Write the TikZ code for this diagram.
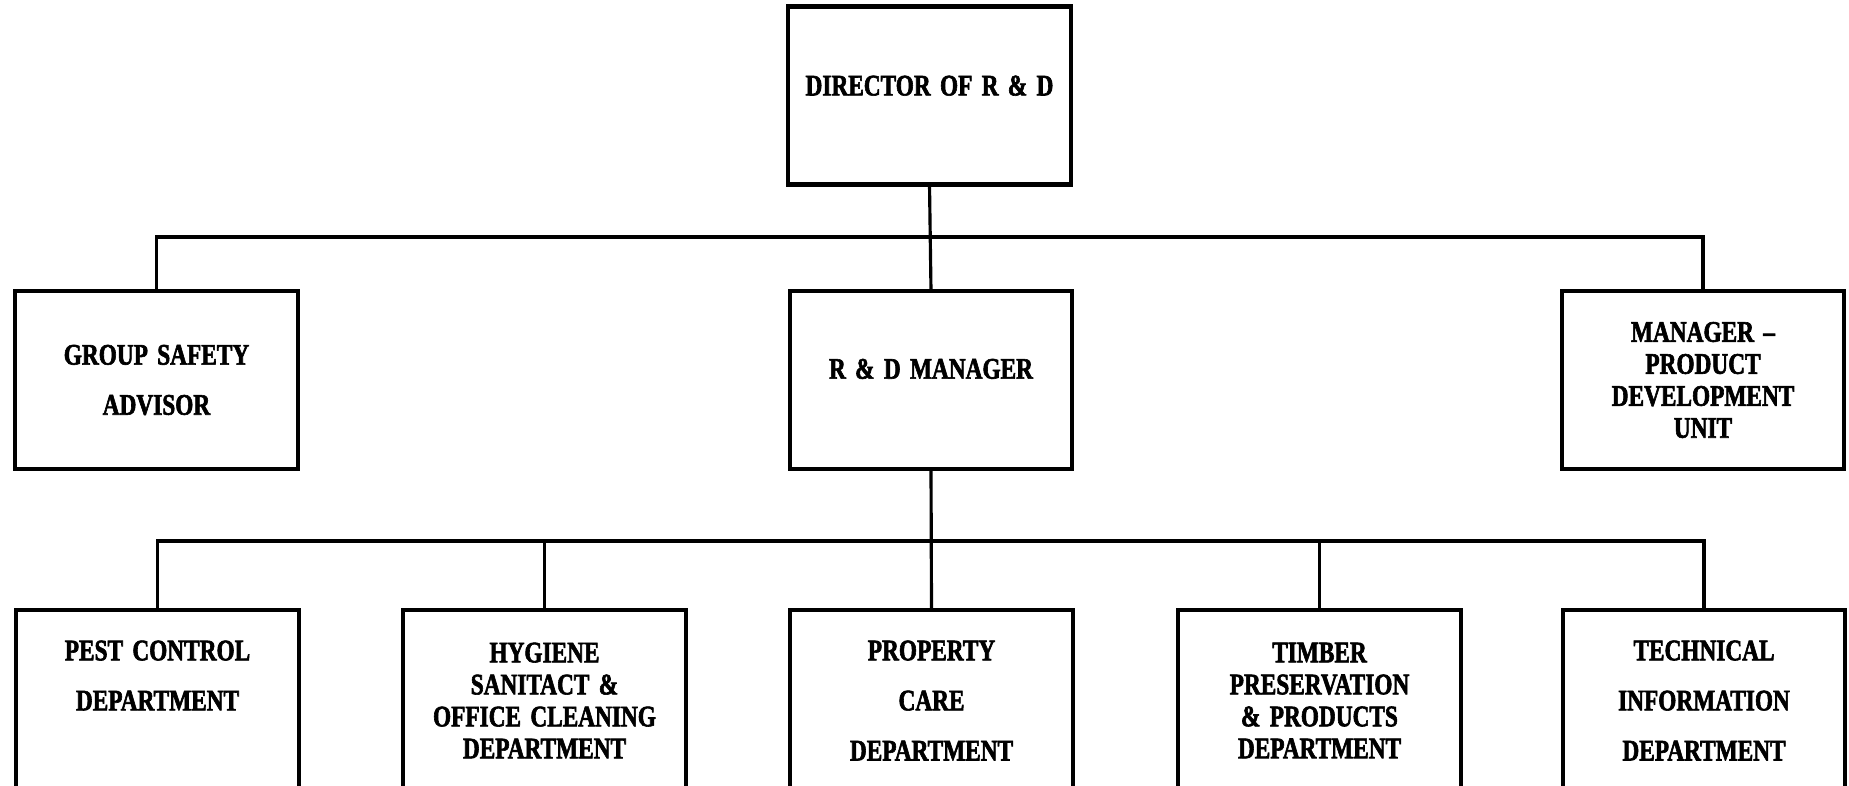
\documentclass[tikz,border=0pt]{standalone}
\usepackage{fontspec}
\setmainfont{Liberation Serif}[FakeStretch=0.78,WordSpace=1.6,FakeBold=2]
\usepackage{tikz}

\tikzset{
    unit/.style={draw,line width=2.5pt,minimum width=5.65cm,minimum height=3.56cm,
        align=center,outer sep=0pt,inner sep=2pt},
    tight/.style={font=\fontsize{17}{18.2}\selectfont\bfseries},
    loose/.style={font=\fontsize{17}{28.5}\selectfont\bfseries},
    link/.style={line width=1.8pt}
}

\begin{document}
\begin{tikzpicture}
            \clip (0,0) rectangle (36.98,-15.7);

            % top of the chart
            \node[unit,loose,text depth=0.4cm] (dir) at (18.59,-1.91) {DIRECTOR OF R \& D};

            \node[unit,loose] (gsa) at (3.13,-7.6) {GROUP SAFETY\\ADVISOR};
            \node[unit,loose,text depth=0.45cm] (rdm) at (18.62,-7.6) {R \& D MANAGER};
            \node[unit,tight] (mpd) at (34.06,-7.6) {MANAGER --\\PRODUCT\\DEVELOPMENT\\UNIT};

            % departments, cut off at the bottom edge
            \node[unit,loose,minimum height=3.62cm] (pest) at (3.15,-14.01) {PEST CONTROL\\DEPARTMENT\\~};
            \node[unit,tight,minimum height=3.62cm] (hyg) at (10.89,-14.01) {HYGIENE\\SANITACT \&\\OFFICE CLEANING\\DEPARTMENT};
            \node[unit,loose,minimum height=3.62cm] (prop) at (18.63,-14.01) {PROPERTY\\CARE\\DEPARTMENT};
            \node[unit,tight,minimum height=3.62cm] (timb) at (26.39,-14.01) {TIMBER\\PRESERVATION\\\& PRODUCTS\\DEPARTMENT};
            \node[unit,loose,minimum height=3.62cm] (tech) at (34.08,-14.01) {TECHNICAL\\INFORMATION\\DEPARTMENT};

            \coordinate (topbus) at (0,-4.74);
            \coordinate (lowbus) at (0,-10.82);

            \draw[link] (dir.south) -- (rdm.north);
            \draw[link] (gsa.north) -- (gsa.north |- topbus) -- (mpd.north |- topbus) -- (mpd.north);

            \draw[link] (rdm.south) -- (prop.north);
            \draw[link] (pest.north) -- (pest.north |- lowbus) -- (tech.north |- lowbus) -- (tech.north);
            \draw[link] (hyg.north) -- (hyg.north |- lowbus);
            \draw[link] (timb.north) -- (timb.north |- lowbus);

        \end{tikzpicture}
\end{document}
